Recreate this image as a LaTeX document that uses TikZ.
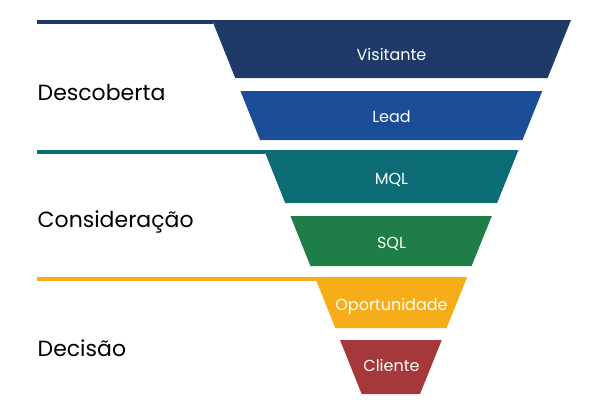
\documentclass[tikz,border=0pt]{standalone}
\usepackage{fontspec}
\setmainfont{Poppins}
\usepackage{xcolor}
\usepackage{tikz}

\definecolor{visitante}{HTML}{1F3A68}
\definecolor{lead}{HTML}{1B4D98}
\definecolor{mql}{HTML}{0C6C76}
\definecolor{sql}{HTML}{1F7D47}
\definecolor{oportunidade}{HTML}{F7AC1A}
\definecolor{cliente}{HTML}{A4383A}

\tikzset{
  stage/.style={anchor=base west, inner sep=0pt, text=black, font=\fontsize{22}{25}\selectfont},
  bandtext/.style={anchor=base, inner sep=0pt, text=white, font=\fontsize{16}{19}\selectfont},
  divider/.style={line width=3.5pt}
}

\begin{document}
\begin{tikzpicture}[x=1pt, y=-1pt]
        \useasboundingbox (0, 0) rectangle (595, 408);

        % funnel bands
        \fill[visitante] (212, 20) -- (571, 20) -- (547.6, 78) -- (235.2, 78) -- cycle;
        \fill[lead] (240.4, 91) -- (542.3, 91) -- (522.5, 140) -- (260, 140) -- cycle;
        \fill[mql] (264, 150) -- (518.5, 150) -- (497.1, 203) -- (285.2, 203) -- cycle;
        \fill[sql] (290.4, 216) -- (491.8, 216) -- (471.6, 266) -- (310.4, 266) -- cycle;
        \fill[oportunidade] (314.8, 277) -- (467.2, 277) -- (446.6, 328) -- (335.2, 328) -- cycle;
        \fill[cliente] (340, 340) -- (441.8, 340) -- (420, 394) -- (361.6, 394) -- cycle;

        \node[bandtext] (B1) at (391.5, 60.5) {Visitante};
        \node[bandtext] (B2) at (391.5, 122) {Lead};
        \node[bandtext] (B3) at (391.5, 184) {MQL};
        \node[bandtext] (B4) at (391.5, 248) {SQL};
        \node[bandtext] (B5) at (391.5, 310) {Oportunidade};
        \node[bandtext] (B6) at (391.5, 371) {Cliente};

        % stage dividers
        \coordinate (D1a) at (37, 21.75);
        \coordinate (D1b) at (213, 21.75);
        \coordinate (D2a) at (37, 151.75);
        \coordinate (D2b) at (265, 151.75);
        \coordinate (D3a) at (37, 279);
        \coordinate (D3b) at (316, 279);
        \draw[divider, visitante] (D1a) -- (D1b);
        \draw[divider, mql] (D2a) -- (D2b);
        \draw[divider, oportunidade] (D3a) -- (D3b);

        \node[stage] (S1) at (37.5, 100) {Descoberta};
        \node[stage] (S2) at (37.5, 227) {Consideração};
        \node[stage] (S3) at (37.5, 356) {Decisão};
      \end{tikzpicture}
\end{document}
